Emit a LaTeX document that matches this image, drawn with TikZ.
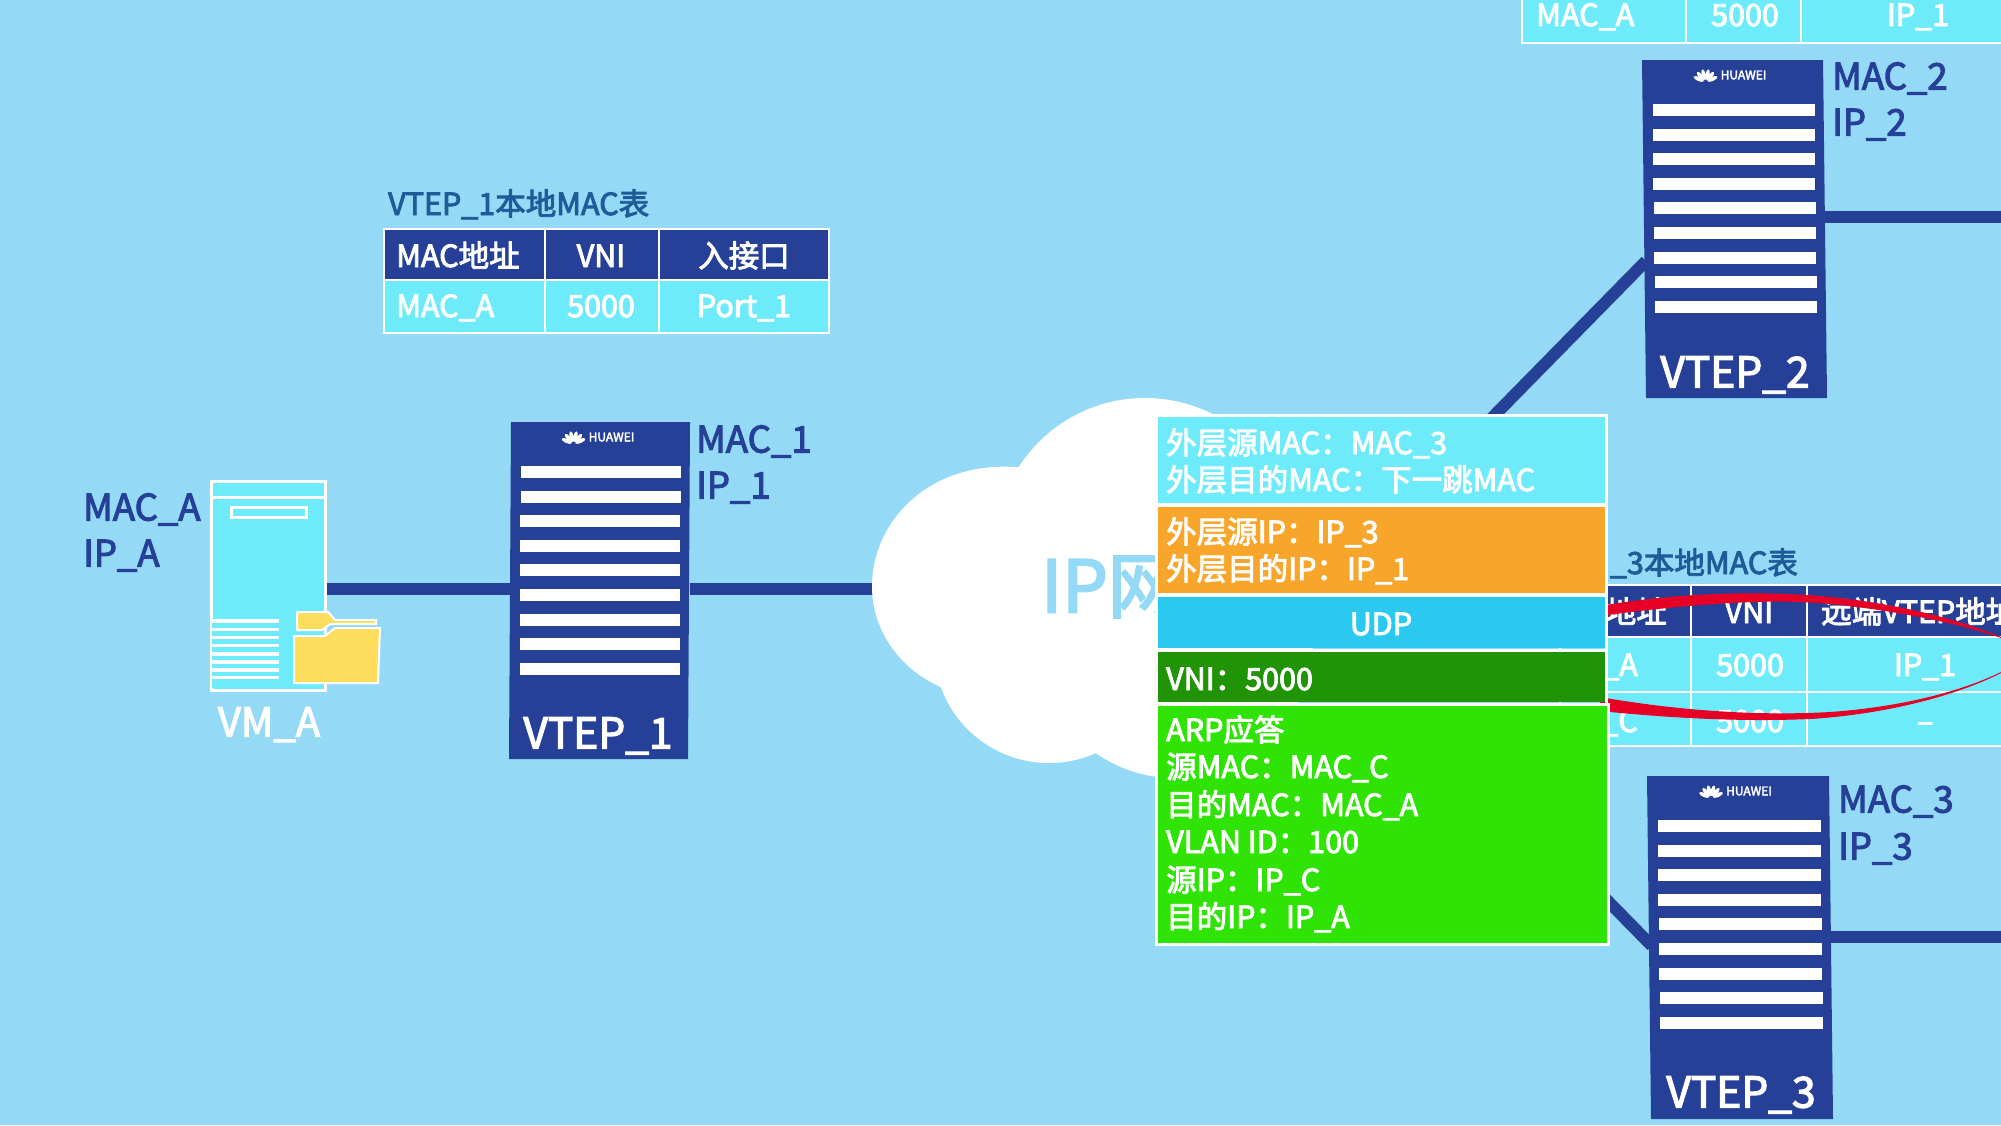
\documentclass[tikz,border=0pt]{standalone}
\usepackage{fontspec}
\setmainfont{Noto Sans CJK SC}[FakeBold=3,RawFeature={embolden=3}]
\definecolor{bgc}{HTML}{94D9F6}
\definecolor{navy}{HTML}{274097}
\definecolor{cyanc}{HTML}{6EEBFB}
\definecolor{orangec}{HTML}{F8A52C}
\definecolor{udpc}{HTML}{2BC9EF}
\definecolor{dgreen}{HTML}{219306}
\definecolor{bgreen}{HTML}{2FE305}
\definecolor{titlec}{HTML}{1F5A99}
\definecolor{foldc}{HTML}{FFDD5C}
\definecolor{redc}{HTML}{E60026}
\tikzset{
 link/.style={draw=navy,line width=12pt},
 stripe/.style={fill=white,draw=none},
 lbl/.style={text=navy,font=\fontsize{36.5}{36.5}\selectfont,anchor=west,inner sep=0pt,text height=31pt,text depth=4pt},
 devname/.style={text=white,font=\fontsize{42.5}{42.5}\selectfont,inner sep=0pt,text height=35pt,text depth=4pt},
 hw/.style={text=white,font=\fontsize{12}{12}\selectfont,inner sep=0pt},
 cellw/.style={text=white,font=\fontsize{30.5}{30.5}\selectfont,inner sep=0pt,text height=26pt,text depth=4pt},
 title/.style={text=titlec,font=\fontsize{30.5}{30.5}\selectfont,inner sep=0pt,text height=26pt,text depth=4pt},
 pkt/.style={text=white,font=\fontsize{30.5}{30.5}\selectfont,inner sep=0pt,anchor=west,text height=26pt,text depth=4pt},
 tline/.style={draw=white,line width=2.5pt},
 pband/.style={draw=white,line width=3pt}
}
\newcommand{\vtepbox}[6]{% name, x top-left, x top-right, y top, y bottom, shift at bottom
 \fill[navy] (#2,#4) -- (#3,#4) -- (#3+#6,#5) -- (#2+#6,#5) -- cycle;
 \coordinate (#1) at (#2,#4);
 \foreach \i in {0,...,8}{
  \pgfmathsetmacro{\yy}{#4+44+24.6*\i}
  \pgfmathsetmacro{\sx}{#6*(\yy-#4)/(#5-#4)}
  \fill[stripe] (#2+\sx+10,\yy) rectangle (#3+\sx-9,\yy+12);
 }
 \node[hw] at ({(#2+#3)/2+11},#4+15) {HUAWEI};
 \foreach \a in {-66,-40,-14,14,40,66}
  \fill[white,shift={({(#2+#3)/2-27},#4+22)},rotate=\a] (0,-7.5) ellipse (2.1 and 5.5);
}
\begin{document}
\begin{tikzpicture}[x=1pt,y=-1pt]
\useasboundingbox (0,0) rectangle (2001,1125);
\fill[bgc] (0,0) rectangle (2001,1125);
% links
\coordinate (vmR) at (325,589);
\coordinate (v1L) at (510,589);
\coordinate (v1R) at (690,589);
\coordinate (clL) at (880,589);
\coordinate (v2R) at (1825,217);
\coordinate (v2Rend) at (2001,217);
\coordinate (v2L) at (1646,261);
\coordinate (pktA) at (1480,430);
\coordinate (v3R) at (1830,937);
\coordinate (v3Rend) at (2001,937);
\coordinate (v3L) at (1652,946);
\coordinate (pktB) at (1596,889);
\draw[link] (vmR) -- (v1L);
\draw[link] (v1R) -- (clL);
\draw[link] (v2R) -- (v2Rend);
\draw[link] (v2L) -- (pktA);
\draw[link] (v3R) -- (v3Rend);
\draw[link] (v3L) -- (pktB);
% cloud
\fill[white] (1014,467) .. controls (930,462) and (872,520) .. (872,587) .. controls (872,630) and (900,672) .. (948,690) -- (1160,690) -- (1160,467) -- cycle;
\fill[white] (1145,548) circle (150);
\fill[white] (1049,648) circle (115);
\fill[white] (1175,640) circle (138);
% IP net
\node[text=bgc,font=\fontsize{72}{72}\selectfont,anchor=west,inner sep=0pt] (ipnet) at (1041,587) {IP网};
% VM
\fill[cyanc] (211,481) rectangle (325,690);
\draw[white,line width=3pt] (211,481) rectangle (325,690);
\draw[white,line width=3pt] (211,497) -- (325,497);
\draw[white,line width=3pt] (231,507) rectangle (306,517);
\fill[cyanc] (212,618) rectangle (279,688);
\foreach \y in {621,629.2,637.4,645.6,653.8,662,670,677.5}
 \fill[white] (212,\y-1.7) rectangle (279,\y+1.7);
\draw[white,line width=2pt,fill=foldc] (297,612) -- (328,612) -- (335,620) -- (376,620) -- (376,624) -- (330,624) -- (322,630) -- (297,630) -- cycle;
\draw[white,line width=2pt,fill=foldc] (294,683) -- (294,636) -- (325,636) -- (335,628) -- (380,628) -- (378,683) -- cycle;
\node[text=white,font=\fontsize{40}{40}\selectfont,inner sep=0pt,text height=33pt,text depth=4pt] (vmname) at (269,722) {VM\_A};
\node[lbl] (maca) at (83,507) {MAC\_A};
\node[lbl] (ipa) at (83,553) {IP\_A};
% VTEP1
\vtepbox{vone}{511}{690}{422}{759}{-2}
\node[devname] (vt1) at (598,733) {VTEP\_1};
\node[lbl] (mac1) at (696,439) {MAC\_1};
\node[lbl] (ip1) at (696,485) {IP\_1};
% VTEP2
\vtepbox{vtwo}{1642}{1823}{60}{398}{4}
\node[devname] (vt2) at (1735,372) {VTEP\_2};
\node[lbl] (mac2) at (1832,76) {MAC\_2};
\node[lbl] (ip2) at (1832,122) {IP\_2};
% VTEP3
\vtepbox{vthree}{1647}{1829}{776}{1119}{4}
\node[devname] (vt3) at (1741,1092) {VTEP\_3};
\node[lbl] (mac3) at (1838,799) {MAC\_3};
\node[lbl] (ip3) at (1838,846) {IP\_3};
% top right table
\fill[cyanc] (1522,-3) rectangle (2001,43);
\draw[tline] (1522,-3) -- (1522,43) -- (2001,43);
\draw[tline] (1686,-3) -- (1686,43);
\draw[tline] (1801,-3) -- (1801,43);
\node[cellw,anchor=west] (tma) at (1536,15) {MAC\_A};
\node[cellw] (t5k) at (1745,15) {5000};
\node[cellw] (tip) at (1918,15) {IP\_1};
% VTEP1 table
\node[title,anchor=west] (t1title) at (388,204) {VTEP\_1本地MAC表};
\fill[navy] (384,229) rectangle (829,280);
\fill[cyanc] (384,280) rectangle (829,333);
\draw[tline] (384,229) rectangle (829,333);
\draw[tline] (384,280) -- (829,280);
\draw[tline] (545,229) -- (545,333);
\draw[tline] (659,229) -- (659,333);
\node[cellw,anchor=west] at (396,256) {MAC地址};
\node[cellw] at (601,256) {VNI};
\node[cellw] at (744,256) {入接口};
\node[cellw,anchor=west] at (396,306) {MAC\_A};
\node[cellw] at (601,306) {5000};
\node[cellw] at (744,306) {Port\_1};
% VTEP3 table
\node[title,anchor=east] (t3title) at (1798,563) {\_3本地MAC表};
\fill[navy] (1560,585) rectangle (2001,637);
\fill[cyanc] (1560,637) rectangle (2001,746);
\draw[tline] (2001,585) -- (1560,585) -- (1560,746) -- (2001,746);
\draw[tline] (1560,637) -- (2001,637);
\draw[tline] (1560,692) -- (2001,692);
\draw[tline] (1691,585) -- (1691,746);
\draw[tline] (1807,585) -- (1807,746);
\node[cellw,anchor=east] at (1667,612) {地址};
\node[cellw] at (1749,612) {VNI};
\node[cellw,anchor=west] at (1821,612) {远端VTEP地址};
\node[cellw,anchor=east] at (1638,665) {\_A};
\node[cellw] at (1750,665) {5000};
\node[cellw] at (1925,665) {IP\_1};
\node[cellw,anchor=east] at (1638,721) {\_C};
\node[cellw] at (1750,721) {5000};
\node[cellw] at (1925,721) {–};
% red ribbon
\fill[redc] (1600,606) .. controls (1680,592) and (1770,590) .. (1840,598) .. controls (1910,606) and (1965,622) .. (2001,637) -- (2001,638) .. controls (1960,624) and (1900,611) .. (1830,604) .. controls (1770,598) and (1690,604) .. (1600,616) -- cycle;
\fill[redc] (1600,697) .. controls (1680,711) and (1760,716) .. (1830,712) .. controls (1900,707) and (1960,692) .. (2001,672) -- (2001,673) .. controls (1960,694) and (1890,714) .. (1810,719) .. controls (1740,722) and (1670,718) .. (1600,711) -- cycle;
% packet
\fill[cyanc] (1156,415) rectangle (1606,504);
\fill[orangec] (1156,506) rectangle (1606,593);
\fill[udpc] (1156,597) rectangle (1606,648);
\fill[dgreen] (1156,652) rectangle (1606,702);
\fill[bgreen] (1156,706) rectangle (1608,944);
\draw[pband] (1156,415) rectangle (1606,504);
\draw[pband] (1156,505) rectangle (1606,594);
\draw[pband] (1156,595) rectangle (1606,650);
\draw[pband] (1156,650) rectangle (1606,704);
\draw[pband] (1156,704) rectangle (1608,944);
\node[pkt] (p1) at (1166,443) {外层源MAC：MAC\_3};
\node[pkt] (p2) at (1166,480) {外层目的MAC：下一跳MAC};
\node[pkt] (p3) at (1166,532) {外层源IP：IP\_3};
\node[pkt] (p4) at (1166,569) {外层目的IP：IP\_1};
\node[pkt,anchor=center] (p5) at (1381,624) {UDP};
\node[pkt] (p6) at (1166,679) {VNI：5000};
\node[pkt] (p7) at (1166,730) {ARP应答};
\node[pkt] (p8) at (1166,767) {源MAC：MAC\_C};
\node[pkt] (p9) at (1166,805) {目的MAC：MAC\_A};
\node[pkt] (p10) at (1166,842) {VLAN ID：100};
\node[pkt] (p11) at (1166,880) {源IP：IP\_C};
\node[pkt] (p12) at (1166,917) {目的IP：IP\_A};
\end{tikzpicture}
\end{document}
